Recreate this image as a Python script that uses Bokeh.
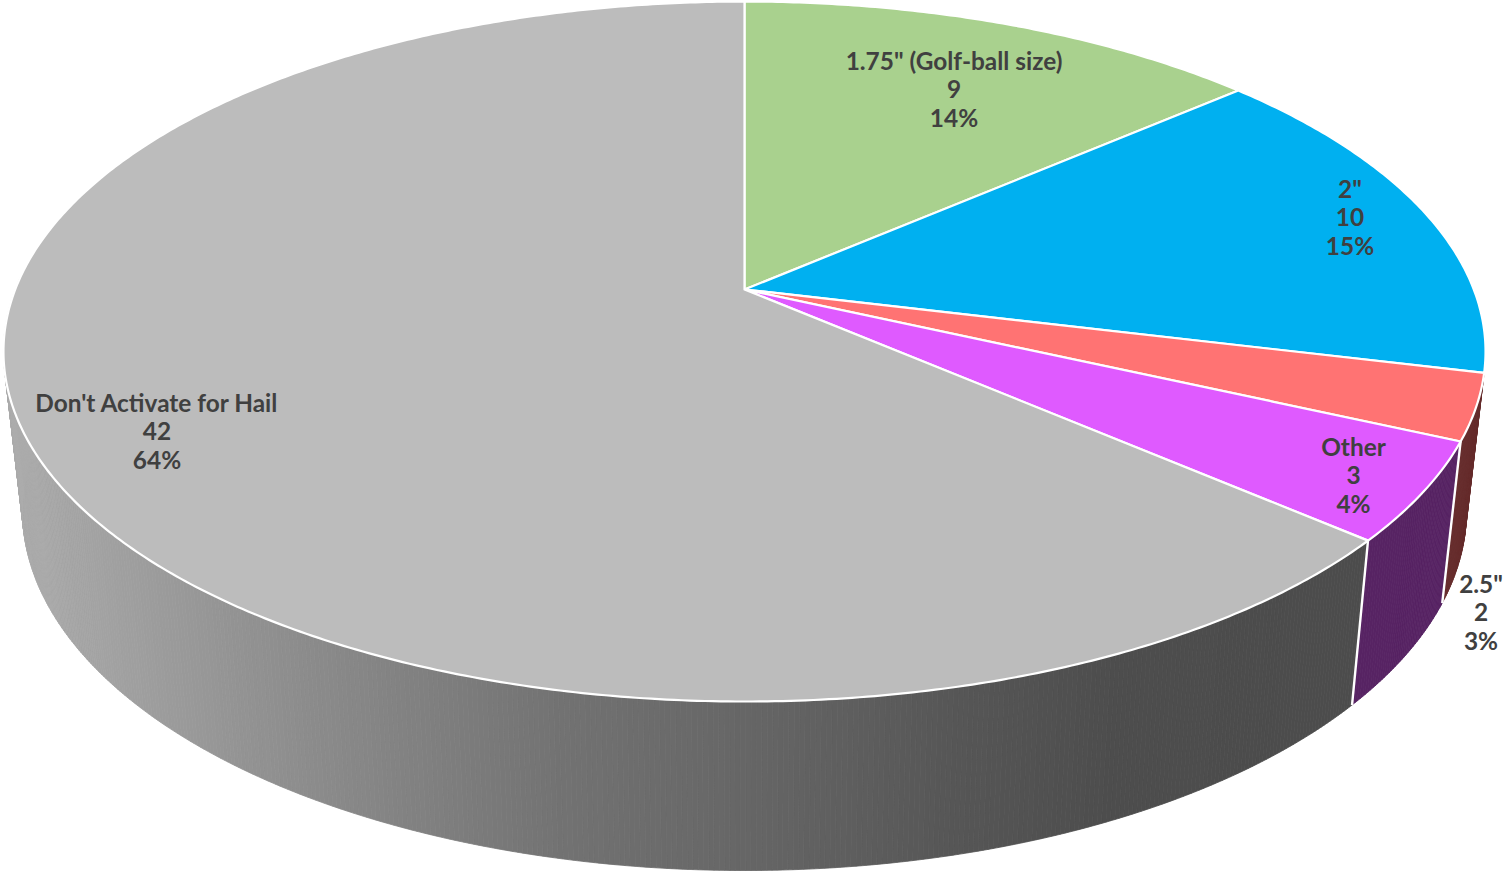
import numpy as np
from bokeh.plotting import figure
from bokeh.embed import file_html
from bokeh.resources import INLINE
from bokeh.core.properties import value

# ---- data ----
categories = ['1.75" (Golf-ball size)', '2"', '2.5"', 'Other', "Don't Activate for Hail"]
counts = [9, 10, 2, 3, 42]
percents = ["14%", "15%", "3%", "4%", "64%"]

# ---- styles ----
top_colors = ["#a9d18e", "#00b0f0", "#ff7373", "#df5aff", "#bcbcbc"]
side_colors = [None, None, "#662c2c", "#572363", None]
label_x = [953.5, 1349.5, 1480.5, 1353, 156.5]
label_y = [59.5, 187.5, 582.5, 445.5, 401.5]
LINE = 28.5
TEXT = "#404040"
CX, CY, K, A, B = 744.0, 289.0, 0.1772, 729.3, 339.0
BCY, BRX, BRY = 510.0, 722.0, 360.0
TCY, TRX, TRY = 351.0, 741.0, 350.0
gx = [0, 300, 560, 744, 960, 1120, 1507]
gv = [172, 140, 114, 102, 86, 77, 75]

def top(theta):
    u, v = np.sin(theta), np.cos(theta)
    d = 1 + K * v
    return CX + A * u / d, CY - B * v / d

def bottom(x, y):
    return CX + (BRX / TRX) * (x - CX), BCY + (BRY / TRY) * (y - TCY)

total = sum(counts)
edges = np.radians(np.concatenate([[0], np.cumsum(counts)]) * 360.0 / total)

p = figure(width=1507, height=872, x_range=(0, 1507), y_range=(872, 0),
           output_backend="svg", toolbar_location=None, min_border=0,
           outline_line_color=None, background_fill_color="white")
p.axis.visible = False
p.grid.visible = False
p.styles = {"position": "absolute", "left": "0px", "top": "0px"}

# ---- side wall ----
sx, sy, sc = [], [], []
def add_side(t0, t1, color):
    n = max(2, int((t1 - t0) / np.radians(0.35)))
    ts = np.linspace(t0, t1, n + 1)
    for a, b in zip(ts[:-1], ts[1:]):
        x0, y0 = top(a); x1, y1 = top(b)
        bx0, by0 = bottom(x0, y0); bx1, by1 = bottom(x1, y1)
        sx.append([x0, x1, bx1, bx0]); sy.append([y0, y1, by1, by0])
        if color is None:
            g = int(round(np.interp((x0 + x1) / 2, gx, gv)))
            sc.append(f"#{g:02x}{g:02x}{g:02x}")
        else:
            sc.append(color)

for i in (2, 3):
    add_side(edges[i], edges[i + 1], side_colors[i])
add_side(edges[4], np.radians(272.0), None)
p.patches(sx, sy, fill_color=sc, line_color=sc, line_width=0.8)

# white verticals between wall segments
vx, vy = [], []
for i in (3, 4):
    x0, y0 = top(edges[i]); bx, by = bottom(x0, y0)
    vx.append([x0, bx]); vy.append([y0, by])
p.multi_line(vx, vy, line_color="white", line_width=2.4)

# ---- top face ----
fx, fy = [], []
for i in range(len(counts)):
    ts = np.linspace(edges[i], edges[i + 1], max(3, int((edges[i + 1] - edges[i]) / np.radians(0.5))))
    x, y = top(ts)
    fx.append([CX] + list(x)); fy.append([CY] + list(y))
p.patches(fx, fy, fill_color=top_colors, line_color="white", line_width=2.2, line_join="round")

# ---- labels ----
tx, ty, tt = [], [], []
for c, n, pc, x, y in zip(categories, counts, percents, label_x, label_y):
    for j, s in enumerate([c, str(n), pc]):
        tx.append(x); ty.append(y + j * LINE); tt.append(s)
p.text(tx, ty, text=tt, text_font=value("Lato"), text_font_style="bold",
       text_font_size="24.4px", text_color=TEXT, text_align="center", text_baseline="middle")

open("out.html", "w").write(file_html(p, INLINE))
